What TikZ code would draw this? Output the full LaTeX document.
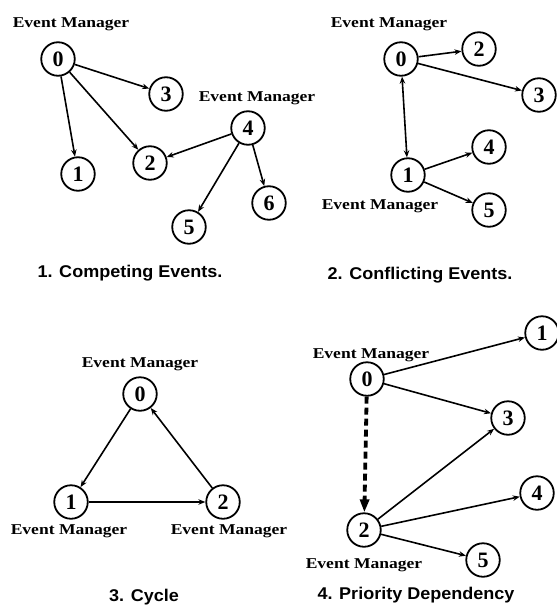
\documentclass[tikz,border=0pt]{standalone}
\usepackage{fontspec}
\usetikzlibrary{arrows.meta}
\newfontfamily\emfont{Liberation Serif}[FakeStretch=1.17]
\newfontfamily\numfont{Liberation Serif}
\newfontfamily\capfont{Liberation Sans}[FakeStretch=1.06]
\begin{document}
\begin{tikzpicture}[x=1pt,y=-1pt,
  st/.style={circle,draw,line width=1.8pt,minimum size=33.5pt,inner sep=0pt,
    font=\numfont\bfseries\fontsize{22}{22}\selectfont},
  lbl/.style={font=\emfont\bfseries\fontsize{15}{15}\selectfont,inner sep=0pt},
  captxt/.style={font=\capfont\bfseries\fontsize{17}{17}\selectfont,inner sep=0pt},
  arr/.style={-{Stealth[length=7pt,width=5.5pt]},line width=1.6pt},
  darr/.style={{Stealth[length=7pt,width=5.5pt]}-{Stealth[length=7pt,width=5.5pt]},line width=1.6pt},
  dasharr/.style={-{Triangle[length=13pt,width=9pt]},line width=3.8pt,dash pattern=on 7pt off 4pt}]
\useasboundingbox (0,0) rectangle (557,608);
% Quadrant 1
\node[st] (a0) at (58,59) {0};
\node[st] (a3) at (166,94) {3};
\node[st] (a4) at (248,128) {4};
\node[st] (a1) at (78,174) {1};
\node[st] (a2) at (150,163) {2};
\node[st] (a5) at (189,227) {5};
\node[st] (a6) at (269,203) {6};
\node[lbl] (la0) at (71,24) {Event Manager};
\node[lbl] (la4) at (257,98) {Event Manager};
\node[captxt] (ca) at (130,273) {1. Competing Events.};
\draw[arr] (a0) -- (a3);
\draw[arr] (a0) -- (a1);
\draw[arr] (a0) -- (a2);
\draw[arr] (a4) -- (a2);
\draw[arr] (a4) -- (a5);
\draw[arr] (a4) -- (a6);
% Quadrant 2
\node[st] (b0) at (401,59) {0};
\node[st] (b2) at (479,49) {2};
\node[st] (b3) at (539,95) {3};
\node[st] (b4) at (489,147) {4};
\node[st] (b1) at (408,175) {1};
\node[st] (b5) at (489,210) {5};
\node[lbl] (lb0) at (389,24) {Event Manager};
\node[lbl] (lb1) at (380,206) {Event Manager};
\node[captxt] (cb) at (420,275) {2. Conflicting Events.};
\draw[arr] (b0) -- (b2);
\draw[arr] (b0) -- (b3);
\draw[darr] (b0) -- (b1);
\draw[arr] (b1) -- (b4);
\draw[arr] (b1) -- (b5);
% Quadrant 3
\node[st] (c0) at (140,394) {0};
\node[st] (c1) at (71,502) {1};
\node[st] (c2) at (223,502) {2};
\node[lbl] (lc0) at (140,364) {Event Manager};
\node[lbl] (lc1) at (69,531) {Event Manager};
\node[lbl] (lc2) at (229,531) {Event Manager};
\node[captxt] (cc) at (144,597) {3. Cycle};
\draw[arr] (c0) -- (c1);
\draw[arr] (c1) -- (c2);
\draw[arr] (c2) -- (c0);
% Quadrant 4
\node[st] (d0) at (367,379) {0};
\node[st] (d1) at (542,333) {1};
\node[st] (d3) at (508,418) {3};
\node[st] (d4) at (537,493) {4};
\node[st] (d2) at (364,530) {2};
\node[st] (d5) at (483,560) {5};
\node[lbl] (ld0) at (371,355) {Event Manager};
\node[lbl] (ld2) at (364,565) {Event Manager};
\node[captxt] (cd) at (416,595) {4. Priority Dependency};
\draw[arr] (d0) -- (d1);
\draw[arr] (d0) -- (d3);
\draw[arr] (d2) -- (d3);
\draw[arr] (d2) -- (d4);
\draw[arr] (d2) -- (d5);
\draw[dasharr] (d0) -- (d2);
\end{tikzpicture}
\end{document}
